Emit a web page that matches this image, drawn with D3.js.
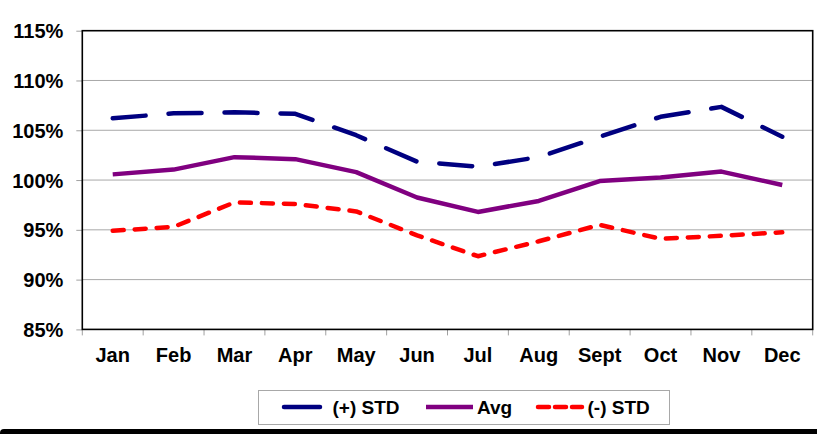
<!DOCTYPE html>
<html>
<head>
<meta charset="utf-8">
<script src="https://cdn.jsdelivr.net/npm/d3@7"></script>
<style>
  html, body { margin: 0; padding: 0; background: #fff; }
  svg { display: block; font-family: Arial, "Liberation Sans", sans-serif; }
</style>
</head>
<body>
<svg id="chart" width="817" height="434"></svg>
<script>
const months = ["Jan","Feb","Mar","Apr","May","Jun","Jul","Aug","Sept","Oct","Nov","Dec"];
const plusStd = [106.2, 106.7, 106.8, 106.65, 104.5, 101.85, 101.35, 102.3, 104.35, 106.35, 107.35, 104.35];
const avg     = [100.57, 101.05, 102.3, 102.1, 100.8, 98.25, 96.8, 97.9, 99.9, 100.25, 100.85, 99.5];
const minusStd= [94.9, 95.3, 97.75, 97.6, 96.85, 94.45, 92.35, 93.85, 95.5, 94.1, 94.4, 94.75];
const yTicks = [85, 90, 95, 100, 105, 110, 115];
const legendLabels = ["(+) STD", "Avg", "(-) STD"];

const svg = d3.select("#chart");
const L = 82.3, R = 812.7, T = 30.7, B = 329.4;

const x = d3.scaleBand().domain(months).range([L, R]).padding(0);
const y = d3.scaleLinear().domain([85, 115]).range([B, T]);

// gridlines
svg.append("g").selectAll("line")
  .data(yTicks.filter(v => v > 85 && v < 115))
  .join("line")
  .attr("x1", L).attr("x2", R)
  .attr("y1", d => y(d)).attr("y2", d => y(d))
  .attr("stroke", "#a8a8a8").attr("stroke-width", 1);

// y axis
const yAxis = d3.axisLeft(y).tickValues(yTicks).tickFormat(d => d + "%")
  .tickSize(6).tickPadding(13);
const gy = svg.append("g").attr("transform", `translate(${L},0)`).call(yAxis);
gy.select(".domain").remove();
gy.selectAll(".tick line").attr("stroke", "#a0a0a0");
gy.selectAll(".tick text").attr("font-size", 20).attr("font-weight", "bold")
  .attr("fill", "#000").attr("font-family", "Arial, 'Liberation Sans', sans-serif")
  .attr("dy", "0.35em");

// x axis boundary ticks
const bounds = months.map(m => x(m)).concat([R]);
svg.append("g").selectAll("line").data(bounds).join("line")
  .attr("x1", d => d).attr("x2", d => d)
  .attr("y1", B).attr("y2", B + 6)
  .attr("stroke", "#a0a0a0").attr("stroke-width", 1);

// x labels
svg.append("g").selectAll("text").data(months).join("text")
  .attr("x", d => x(d) + x.bandwidth() / 2)
  .attr("y", 361.5)
  .attr("text-anchor", "middle")
  .attr("font-size", 20).attr("font-weight", "bold")
  .text(d => d);

// plot border
svg.append("rect").attr("x", L).attr("y", T).attr("width", R - L).attr("height", B - T)
  .attr("fill", "none").attr("stroke", "#000").attr("stroke-width", 1.6);

// lines
const line = d3.line().x((d, i) => x(months[i]) + x.bandwidth() / 2).y(d => y(d));
const series = [
  { data: plusStd, color: "#000080", dash: "33 23" },
  { data: avg, color: "#800080", dash: null },
  { data: minusStd, color: "#ff0000", dash: "11 11" }
];
series.forEach(s => {
  svg.append("path").datum(s.data)
    .attr("d", line)
    .attr("fill", "none")
    .attr("stroke", s.color)
    .attr("stroke-width", 4.5)
    .attr("stroke-linecap", s.dash ? "round" : "butt")
    .attr("stroke-linejoin", "round")
    .attr("stroke-dasharray", s.dash);
});

// legend
svg.append("rect").attr("x", 258.5).attr("y", 390.5).attr("width", 411).attr("height", 34)
  .attr("fill", "#fff").attr("stroke", "#a8a8a8").attr("stroke-width", 1);
const legItems = [
  { x1: 284, x2: 320, tx: 332.5, color: "#000080", dash: null, cap: "round" },
  { x1: 426, x2: 473, tx: 477, color: "#800080", dash: null, cap: "butt" },
  { x1: 538, x2: 582, tx: 587.5, color: "#ff0000", dash: "11 6", cap: "round" }
];
legItems.forEach((it, i) => {
  svg.append("line").attr("x1", it.x1).attr("x2", it.x2).attr("y1", 407).attr("y2", 407)
    .attr("stroke", it.color).attr("stroke-width", 4.5).attr("stroke-linecap", it.cap)
    .attr("stroke-dasharray", it.dash);
  svg.append("text").attr("x", it.tx).attr("y", 414)
    .attr("font-size", 19).attr("font-weight", "bold").text(legendLabels[i]);
});

// bottom border bar
svg.append("rect").attr("x", 0).attr("y", 429).attr("width", 830).attr("height", 12)
  .attr("rx", 4).attr("fill", "#000");
</script>
</body>
</html>
